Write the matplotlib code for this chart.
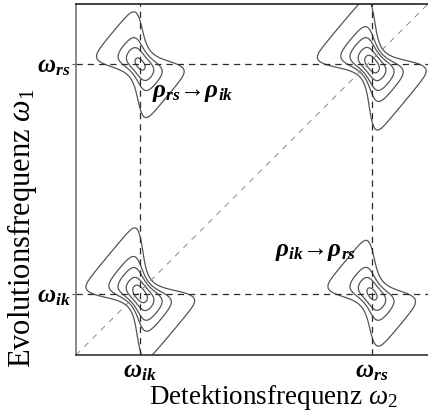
import numpy as np
import matplotlib.pyplot as plt

plt.rcParams['font.family'] = ['Liberation Serif', 'DejaVu Serif']
plt.rcParams['mathtext.fontset'] = 'custom'
plt.rcParams['mathtext.rm'] = 'Liberation Serif'
plt.rcParams['mathtext.it'] = 'Liberation Serif:italic'
plt.rcParams['mathtext.bf'] = 'Liberation Serif:italic:bold'

# frequency positions (axis runs 0..10 in both directions)
tick_x = [1.82, 8.41]
tick_y = [1.74, 8.29]
tick_labels = [r'$\mathbf{\omega_{ik}}$', r'$\mathbf{\omega_{rs}}$']

# two diagonal peaks + two cross peaks
peak_x = [1.82, 8.41, 1.82, 8.41]
peak_y = [1.74, 8.29, 8.29, 1.74]
peak_amp = [1.0, 1.0, 0.6, 0.6]
levels = [0.066, 0.2, 0.33, 0.54, 0.8]

transfer_labels = [r'$\mathbf{\rho_{rs}→\rho_{ik}}$',
                   r'$\mathbf{\rho_{ik}→\rho_{rs}}$']
transfer_pos = [(2.16, 7.46), (5.65, 2.93)]

wx, wy = 0.35, 0.42


def lineshape(x, y, x0, y0, a):
    # phase twisted peak, dispersive part cut off far from centre
    u = (x - x0) / wx
    v = (y - y0) / wy
    absorp = 1 / ((1 + u**2) * (1 + v**2))
    disp = (u / (1 + u**2)) * (v / (1 + v**2)) * np.exp(-(u**2 + v**2) / 16)
    return a * (absorp - disp)


fig = plt.figure(figsize=(4.28, 4.17), dpi=100)
ax = fig.add_axes([76/428, 62/417, 352/428, 351/417])

gx = np.linspace(0, 10, 700)
gy = np.linspace(0, 10, 700)
X, Y = np.meshgrid(gx, gy)
Z = np.zeros_like(X)
for px, py, a in zip(peak_x, peak_y, peak_amp):
    Z += lineshape(X, Y, px, py, a)

ax.contour(X, Y, Z, levels=levels, colors='#555555', linewidths=0.9)

# diagonal
ax.plot([0, 10], [0, 10], color='#888888', lw=0.7, ls=(0, (6, 6)))

for v in tick_x:
    ax.axvline(v, color='#2a2a2a', lw=0.9, ls=(0, (5, 4)))
for v in tick_y:
    ax.axhline(v, color='#2a2a2a', lw=0.9, ls=(0, (5, 4)))

for lab, (tx, ty) in zip(transfer_labels, transfer_pos):
    ax.text(tx, ty, lab, fontsize=18, ha='left', va='center')

ax.set_xlim(0, 10)
ax.set_ylim(0, 10)
ax.set_xticks(tick_x)
ax.set_xticklabels(tick_labels, fontsize=18)
ax.set_yticks(tick_y)
ax.set_yticklabels(tick_labels, fontsize=18)
ax.tick_params(axis='x', length=0, pad=4)
ax.tick_params(axis='y', length=3, pad=1, color='#555555')

ax.spines['right'].set_visible(False)
ax.spines['left'].set_color('#777777')
ax.spines['top'].set_color('#222222')
ax.spines['bottom'].set_color('#333333')
for s in ('left', 'top', 'bottom'):
    ax.spines[s].set_linewidth(1.2)

ax.set_xlabel(r'Detektionsfrequenz $\omega_2$', fontsize=19.5, va='center')
ax.xaxis.set_label_coords(0.561, -0.12)
ax.set_ylabel(r'Evolutionsfrequenz $\omega_1$', fontsize=22, va='center')
ax.yaxis.set_label_coords(-0.152, 0.36)

fig.savefig('out.png', dpi=100)
